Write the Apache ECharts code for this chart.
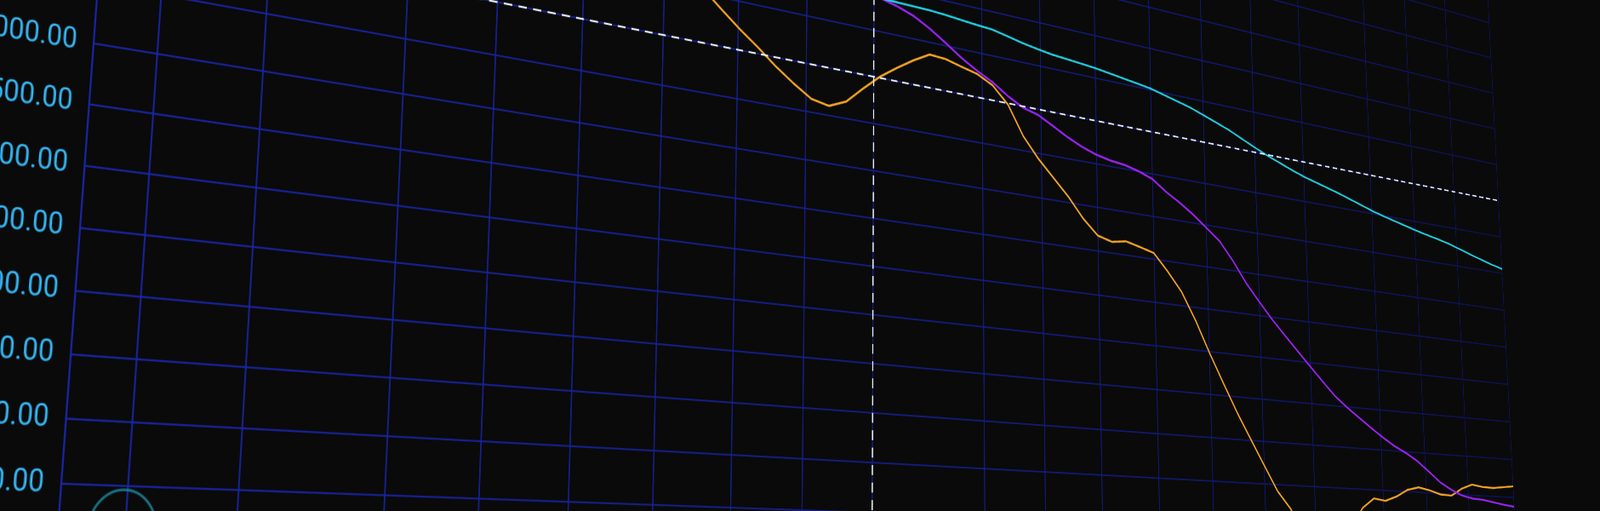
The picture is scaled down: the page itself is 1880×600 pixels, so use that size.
<!DOCTYPE html>
<html>
<head>
<meta charset="utf-8">
<script src="https://cdn.jsdelivr.net/npm/echarts@6/dist/echarts.min.js"></script>
<style>
html,body{margin:0;padding:0;width:1880px;height:600px;overflow:hidden;background:#0a0a0a;}
#chart{position:absolute;left:0;top:0;width:2800px;height:1060px;transform-origin:0 0;}
</style>
</head>
<body>
<div id="chart"></div>
<script>
// ---- data ----
const categories = ['W1','W2','W3','W4','W5','W6','W7','W8','W9','W10','W11','W12','W13','W14','W15','W16','W17','W18','W19','W20','W21','W22','W23','W24','W25','W26','W27','W28','W29','W30','W31','W32','W33','W34','W35','W36','W37','W38','W39','W40','W41','W42','W43','W44','W45','W46','W47','W48','W49','W50','W51','W52','W53','W54','W55','W56','W57','W58','W59','W60','W61','W62','W63','W64','W65','W66','W67','W68','W69','W70','W71','W72','W73','W74','W75','W76','W77','W78','W79','W80','W81','W82','W83','W84','W85'];

const orangeValues = [null,null,null,null,null,null,null,null,null,null,
  null,null,null,null,null,null,null,null,null,null,
  6650,6500,6330,6140,5930,5720,5550,5380,5215,5066,
  4905,4764,4640,4600,4680,4855,5017,5146,5264,5365,
  5352,5304,5260,5168,4986,4662,4437,4252,4067,3845,
  3677,3629,3659,3618,3572,3379,3162,2847,2484,2145,
  1815,1514,1217,922,721,434,327,308,364,538,
  773,895,872,933,1023,1062,1032,988,980,1077,
  1137,1114,1109,1127,1146];

const purpleValues = [null,null,null,null,null,null,null,null,null,null,
  null,null,null,null,null,null,null,null,null,null,
  null,null,null,null,null,null,null,null,null,null,
  null,null,null,null,null,null,5865,5817,5752,5652,
  5531,5403,5296,5203,5082,4985,4936,4843,4746,4666,
  4605,4568,4547,4503,4440,4318,4217,4101,3967,3832,
  3619,3371,3167,2972,2796,2623,2452,2283,2119,1992,
  1878,1765,1658,1561,1485,1392,1271,1143,1057,989,
  957,947,922,898,878];

const cyanValues = [null,null,null,null,null,null,null,null,null,null,
  null,null,null,null,null,null,null,null,null,null,
  null,null,null,null,null,null,null,null,null,null,
  null,null,null,null,null,null,5865,5860,5857,5854,
  5843,5826,5810,5798,5760,5721,5691,5664,5649,5633,
  5617,5593,5568,5544,5518,5475,5432,5389,5330,5271,
  5210,5135,5061,4991,4930,4869,4814,4770,4726,4682,
  4631,4581,4530,4490,4451,4413,4375,4343,4312,4275,
  4229,4182,4139,4097,4060];

// vertical grid ticks (position along the category index scale)
const xTickPositions = [0, 2.3, 6.3, 12, 16, 20, 24, 27.9, 31.7, 35.6, 42.3, 46.2, 50, 54, 58, 62, 66, 71.8, 75.7, 79.6, 84];
const thresholdValue = 5000;      // horizontal dashed line
const markerPosition = 35.6;      // vertical dashed line
const circlePoint = [[2.2, 170]]; // hollow circle marker (index position, value)

const yMin = 0, yMax = 8000, yStep = 500;

// ---- chart ----
const el = document.getElementById('chart');
const chart = echarts.init(el, null, {renderer: 'canvas', devicePixelRatio: 2});
const G_LEFT = 160, G_W = 2600;
const gridGrad = new echarts.graphic.LinearGradient(G_LEFT, 0, G_LEFT + G_W, 0, [
  {offset: 0, color: '#1a26aa'},
  {offset: 0.5, color: '#141e88'},
  {offset: 1, color: '#0c135a'}
], true);

chart.setOption({
  backgroundColor: '#0a0a0a',
  animation: false,
  grid: {left: G_LEFT, top: 40, width: G_W, height: 960, containLabel: false},
  xAxis: [{
    type: 'category', data: categories, boundaryGap: false,
    axisLine: {show: true, lineStyle: {color: gridGrad, width: 1.8}},
    axisTick: {show: false},
    axisLabel: {color: '#35b8f5', fontSize: 24, interval: 3},
    splitLine: {show: false}
  }, {
    type: 'value', min: 0, max: categories.length - 1, position: 'bottom',
    axisLine: {show: false}, axisLabel: {show: false},
    axisTick: {show: false, customValues: xTickPositions},
    splitLine: {show: true, lineStyle: {color: gridGrad, width: 1.8}}
  }],
  yAxis: {
    type: 'value', min: yMin, max: yMax, interval: yStep,
    axisLine: {show: true, lineStyle: {color: '#1a26aa', width: 1.8}},
    axisTick: {show: false},
    axisLabel: {color: '#36b7f4', fontSize: 29, fontFamily: 'Roboto', margin: 18,
      formatter: v => v.toFixed(2)},
    splitLine: {show: true, lineStyle: {color: gridGrad, width: 1.8}}
  },
  series: [
    {name: 'A', type: 'line', data: orangeValues, showSymbol: false, symbol: 'none',
      lineStyle: {color: '#f7a623', width: 2.8}, itemStyle: {color: '#f7a623'},
      markLine: {silent: true, symbol: 'none', label: {show: false},
        lineStyle: {color: '#e6eefa', type: [12, 9], width: 2.2},
        data: [{yAxis: thresholdValue}]}},
    {name: 'B', type: 'line', data: purpleValues, showSymbol: false, symbol: 'none',
      lineStyle: {color: '#9a22f2', width: 3}, itemStyle: {color: '#9a22f2'}},
    {name: 'C', type: 'line', data: cyanValues, showSymbol: false, symbol: 'none',
      lineStyle: {color: '#1fd0e2', width: 2.8}, itemStyle: {color: '#1fd0e2'}},
    {name: 'marker', type: 'scatter', xAxisIndex: 1, data: circlePoint, symbol: 'circle', symbolSize: 72,
      itemStyle: {color: 'rgba(0,0,0,0)', borderColor: '#1b8aa2', borderWidth: 2.5}},
    {name: 'now', type: 'line', xAxisIndex: 1, data: [], symbol: 'none',
      markLine: {silent: true, symbol: 'none', label: {show: false},
        lineStyle: {color: '#e6eefa', type: [12, 9], width: 2.2},
        data: [{xAxis: markerPosition}]}}
  ]
});

// ---- perspective: map the flat plot onto the photographed plane ----
function solve(A, b) {
  const n = b.length;
  for (let i = 0; i < n; i++) {
    let p = i;
    for (let r = i + 1; r < n; r++) if (Math.abs(A[r][i]) > Math.abs(A[p][i])) p = r;
    [A[i], A[p]] = [A[p], A[i]]; [b[i], b[p]] = [b[p], b[i]];
    for (let r = i + 1; r < n; r++) {
      const f = A[r][i] / A[i][i];
      for (let c = i; c < n; c++) A[r][c] -= f * A[i][c];
      b[r] -= f * b[i];
    }
  }
  const x = new Array(n);
  for (let i = n - 1; i >= 0; i--) {
    let s = b[i];
    for (let c = i + 1; c < n; c++) s -= A[i][c] * x[c];
    x[i] = s / A[i][i];
  }
  return x;
}
function applyPerspective() {
  const last = categories.length - 1;
  const src = [
    chart.convertToPixel({xAxisIndex: 0, yAxisIndex: 0}, [0, 4000]),
    chart.convertToPixel({xAxisIndex: 0, yAxisIndex: 0}, [0, 500]),
    chart.convertToPixel({xAxisIndex: 0, yAxisIndex: 0}, [last, 4000]),
    chart.convertToPixel({xAxisIndex: 0, yAxisIndex: 0}, [last, 500])
  ];
  const dst = [[110, 51], [72, 568], [1765, 321], [1781, 629]];
  const A = [], b = [];
  for (let i = 0; i < 4; i++) {
    const [x, y] = src[i], [X, Y] = dst[i];
    A.push([x, y, 1, 0, 0, 0, -X * x, -X * y]); b.push(X);
    A.push([0, 0, 0, x, y, 1, -Y * x, -Y * y]); b.push(Y);
  }
  const h = solve(A, b);
  el.style.transform = 'matrix3d(' + [h[0], h[3], 0, h[6], h[1], h[4], 0, h[7], 0, 0, 1, 0, h[2], h[5], 0, 1].join(',') + ')';
}
applyPerspective();
</script>
</body>
</html>
